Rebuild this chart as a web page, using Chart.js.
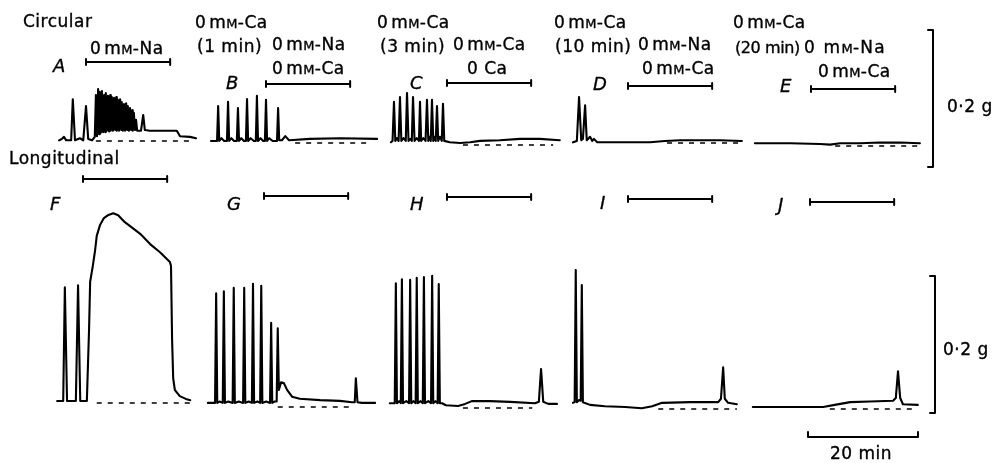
<!DOCTYPE html>
<html><head><meta charset="utf-8">
<script src="https://cdn.jsdelivr.net/npm/chart.js@4/dist/chart.umd.min.js"></script>
<style>
html,body{margin:0;padding:0;background:#fff;}
#wrap{position:relative;width:994px;height:463px;overflow:hidden;background:#fff;}
#c{position:absolute;left:0;top:0;}
.lbl{position:absolute;font-family:"DejaVu Sans",sans-serif;font-size:17px;line-height:17px;color:#000;white-space:nowrap;letter-spacing:0.5px;word-spacing:0;-webkit-text-stroke:0.35px #000;}
.mm{word-spacing:-3px;}
.it{font-style:italic;font-size:18px;}
.sc{font-size:13px;letter-spacing:0.3px;}
</style></head><body>
<div id="wrap">
<canvas id="c" width="994" height="463"></canvas>
<div class="lbl" style="left:23px;top:13px">Circular</div>
<div class="lbl mm" style="left:90px;top:40px">0 m<span class="sc">M</span>-Na</div>
<div class="lbl it" style="left:53px;top:57px">A</div>

<div class="lbl mm" style="left:195px;top:14px">0 m<span class="sc">M</span>-Ca</div>
<div class="lbl" style="left:197px;top:38px">(1 min)</div>
<div class="lbl mm" style="left:272px;top:36px">0 m<span class="sc">M</span>-Na</div>
<div class="lbl mm" style="left:272px;top:60px">0 m<span class="sc">M</span>-Ca</div>
<div class="lbl it" style="left:226px;top:74px">B</div>

<div class="lbl mm" style="left:377px;top:14px">0 m<span class="sc">M</span>-Ca</div>
<div class="lbl" style="left:380px;top:38px">(3 min)</div>
<div class="lbl mm" style="left:453px;top:36px">0 m<span class="sc">M</span>-Ca</div>
<div class="lbl" style="left:467px;top:60px">0 Ca</div>
<div class="lbl it" style="left:410px;top:74px">C</div>

<div class="lbl mm" style="left:554px;top:14px">0 m<span class="sc">M</span>-Ca</div>
<div class="lbl" style="left:555px;top:38px">(10 min)</div>
<div class="lbl mm" style="left:638px;top:36px">0 m<span class="sc">M</span>-Na</div>
<div class="lbl mm" style="left:642px;top:60px">0 m<span class="sc">M</span>-Ca</div>
<div class="lbl it" style="left:593px;top:75px">D</div>

<div class="lbl mm" style="left:733px;top:14px">0 m<span class="sc">M</span>-Ca</div>
<div class="lbl" style="left:735px;top:39px;font-size:16px;letter-spacing:-0.4px">(20 min)</div>
<div class="lbl" style="left:804px;top:39px;letter-spacing:1.2px;word-spacing:1px">0 m<span class="sc">M</span>-Na</div>
<div class="lbl mm" style="left:818px;top:63px">0 m<span class="sc">M</span>-Ca</div>
<div class="lbl it" style="left:780px;top:77px">E</div>
<div class="lbl" style="left:947px;top:98px">0·2 g</div>

<div class="lbl" style="left:9px;top:150px">Longitudinal</div>
<div class="lbl it" style="left:50px;top:195px">F</div>
<div class="lbl it" style="left:227px;top:195px">G</div>
<div class="lbl it" style="left:410px;top:195px">H</div>
<div class="lbl it" style="left:600px;top:194px">I</div>
<div class="lbl it" style="left:778px;top:196px">J</div>
<div class="lbl" style="left:943px;top:341px">0·2 g</div>
<div class="lbl" style="left:830px;top:445px">20 min</div>
</div>
<script>
// ---- DATA: time (min, relative to solution change) and tension (g above baseline) ----
const panelNames = ['A','B','C','D','E','F','G','H','I','J'];

const traceA = [[-4.9,0.001],[-4.4,0.003],[-4.0,0.006],[-3.6,0.001],[-2.7,0.001],[-2.4,0.061],[-2.0,0.001],[-1.1,0.004],[-0.5,0.001],[0,0.051],[0.4,0.003],[1.1,0.001],[1.6,0.006],
 [1.8,0.067],[2.0,0.007],[2.2,0.076],[2.4,0.010],[2.5,0.072],[2.7,0.012],[2.9,0.073],[3.1,0.013],[3.3,0.067],[3.5,0.013],[3.6,0.070],[3.8,0.015],[4.0,0.066],[4.2,0.014],[4.4,0.067],[4.5,0.015],[4.7,0.064],[4.9,0.015],[5.1,0.063],[5.3,0.016],[5.5,0.064],[5.6,0.015],[5.8,0.060],[6.0,0.015],[6.2,0.061],[6.4,0.016],[6.5,0.057],[6.7,0.015],[6.9,0.054],[7.1,0.015],[7.3,0.055],[7.5,0.016],[7.6,0.051],[7.8,0.015],[8.0,0.048],[8.2,0.016],[8.4,0.045],[8.5,0.015],[8.7,0.041],[8.9,0.016],[9.1,0.031],[9.3,0.015],
 [9.6,0.015],[10.0,0.015],[10.4,0.038],[10.7,0.016],[11.6,0.015],[16.5,0.015],[17.1,0.007],[18.9,0.006],[20.0,0.004]];

const traceB = [[-10.0,0.003],[-9.1,0.003],[-8.9,0.003],[-8.7,0.054],[-8.5,0.003],[-8.1,0.007],[-7.6,0.003],[-7.1,0.003],[-6.9,0.060],[-6.7,0.003],[-6.3,0.007],[-5.8,0.003],[-5.3,0.003],[-5.1,0.051],[-4.9,0.003],[-4.5,0.007],[-4.0,0.003],[-3.65,0.003],[-3.45,0.064],[-3.25,0.003],[-2.8,0.007],[-2.2,0.003],[-1.85,0.003],[-1.65,0.069],[-1.45,0.003],[-1.0,0.007],[-0.5,0.003],[-0.2,0.003],[0,0.063],[0.2,0.003],[0.6,0.007],[1.2,0.003],[2.0,0.003],[2.2,0.051],[2.4,0.004],[2.9,0.004],[3.5,0.010],[4.2,0.004],[8.0,0.006],[13.5,0.007],[20.2,0.006]];

const traceC = [[-10.2,0.004],[-9.9,0.006],[-9.64,0.063],[-9.4,0.006],[-9.1,0.010],[-8.8,0.006],[-8.55,0.070],[-8.3,0.006],[-7.9,0.010],[-7.5,0.006],[-7.27,0.076],[-7.0,0.006],[-6.7,0.009],[-6.4,0.006],[-6.18,0.070],[-5.9,0.006],[-5.5,0.010],[-5.1,0.006],[-4.91,0.063],[-4.7,0.006],[-4.3,0.010],[-3.9,0.006],[-3.64,0.066],[-3.4,0.006],[-3.2,0.012],[-2.95,0.006],[-2.73,0.066],[-2.5,0.006],[-2.3,0.012],[-2.05,0.006],[-1.82,0.057],[-1.6,0.006],[-1.3,0.012],[-0.95,0.006],[-0.73,0.060],[-0.5,0.006],[0.5,0.004],[2.4,0.003],[4.2,0.004],[6.0,0.006],[9.6,0.007],[13.3,0.009],[16.9,0.009],[20.5,0.007]];

const traceD = [[-10.0,0.001],[-9.3,0.003],[-8.9,0.067],[-8.5,0.004],[-8.2,0.006],[-7.8,0.055],[-7.5,0.004],[-6.9,0.009],[-6.5,0.003],[-6.2,0.006],[-5.6,0.001],[-1.5,0.001],[4.0,0.001],[6.7,0.003],[9.5,0.004],[13.1,0.004],[16.7,0.004],[20.7,0.003]];

const traceE = [[-10.2,0.004],[-3.8,0.004],[1.6,0.003],[3.5,0.002],[5.3,0.004],[8.9,0.004],[12.5,0.005],[16.2,0.005],[19.8,0.004]];

const traceF = [[-4.7,0.003],[-3.6,0.003],[-3.3,0.169],[-2.9,0.003],[-1.3,0.003],[-0.9,0.172],[-0.5,0.003],[0.7,0.003],[1.1,0.107],[1.3,0.177],[1.8,0.201],[2.2,0.223],[2.5,0.244],[3.1,0.260],[3.8,0.270],[4.5,0.274],[5.5,0.277],[6.4,0.274],[7.6,0.264],[9.1,0.255],[10.4,0.247],[12.2,0.232],[14.0,0.220],[15.8,0.206],[16.0,0.200],[16.2,0.092],[16.4,0.036],[16.7,0.019],[17.6,0.010],[18.7,0.006],[19.5,0.004]];

const traceG = [[-10.2,0.006],[-8.9,0.006],[-8.7,0.166],[-8.5,0.006],[-8.1,0.008],[-7.5,0.006],[-7.3,0.169],[-7.1,0.006],[-6.5,0.008],[-5.7,0.006],[-5.5,0.174],[-5.3,0.006],[-4.6,0.008],[-3.8,0.006],[-3.6,0.174],[-3.4,0.006],[-2.8,0.008],[-2.2,0.006],[-2.0,0.180],[-1.8,0.006],[-1.2,0.008],[-0.7,0.006],[-0.5,0.177],[-0.3,0.006],[0.4,0.008],[1.1,0.006],[1.3,0.123],[1.5,0.006],[1.9,0.008],[2.3,0.008],[2.5,0.115],[2.7,0.025],[3.1,0.036],[3.6,0.035],[4.2,0.025],[5.1,0.015],[6.5,0.012],[10.2,0.010],[13.8,0.009],[16.0,0.007],[16.5,0.007],[16.7,0.042],[17.0,0.007],[17.8,0.006],[20.2,0.006]];

const traceH = [[-10.4,0.007],[-9.5,0.007],[-9.3,0.182],[-9.1,0.007],[-8.7,0.010],[-8.4,0.007],[-8.2,0.188],[-8.0,0.007],[-7.4,0.010],[-6.9,0.007],[-6.7,0.187],[-6.5,0.007],[-6.1,0.010],[-5.7,0.007],[-5.5,0.190],[-5.3,0.007],[-4.8,0.010],[-4.4,0.007],[-4.2,0.191],[-4.0,0.007],[-3.4,0.010],[-2.9,0.007],[-2.7,0.193],[-2.5,0.007],[-2.1,0.010],[-1.7,0.007],[-1.5,0.181],[-1.3,0.007],[-0.9,0.007],[-0.2,0.004],[2.0,0.003],[3.3,0.006],[4.5,0.010],[7.8,0.010],[11.5,0.009],[16.0,0.007],[16.7,0.009],[17.1,0.057],[17.5,0.009],[18.4,0.006],[20.0,0.006]];

const traceI = [[-10.0,0.009],[-9.7,0.010],[-9.5,0.203],[-9.3,0.010],[-8.9,0.013],[-8.6,0.012],[-8.4,0.181],[-8.2,0.010],[-6.9,0.006],[-4.2,0.004],[-0.5,0.003],[2.5,0.001],[4.4,0.004],[6.2,0.009],[11.3,0.010],[16.4,0.010],[16.9,0.015],[17.3,0.061],[17.6,0.015],[18.2,0.009],[19.8,0.007]];

const traceJ = [[-10.4,0.003],[-3.6,0.003],[2.4,0.003],[4.5,0.006],[7.3,0.010],[10.9,0.011],[15.1,0.012],[15.6,0.016],[16.0,0.055],[16.4,0.016],[16.9,0.007],[19.6,0.006]];

const traces = [traceA,traceB,traceC,traceD,traceE,traceF,traceG,traceH,traceI,traceJ];
// dashed zero-tension baselines: [start, end] in min
const baselineSpans = [[1.8,19.8],[5.3,19.3],[2.9,19.3],[7.1,20.7],[4.4,19.8],[2.5,19.5],[2.5,16.5],[2.9,15.5],[5.5,19.8],[3.6,19.5]];
// solution-change period (min)
const applicationPeriod = [0, 15.3];
// calibration bars
const calibTension = 0.2; // g
const calibTime = 20;     // min

// ---- LAYOUT (pixels) ----
const W = 994, H = 463;
const PX_PER_MIN = 5.5, PX_PER_G = 685;
const panelX0 = [86,266,447,628,811,83,264,447,628,810];
const panelBaseY = [141,143,145,143,146,403,407,408,409,409];
const barY = [62,84,83,86,89,179,196,197,199,202];
const tensionBarX = [933,935], tensionBarBottomY = [167,413];
const timeBarX = 808, timeBarY = 437;

const mx = px => px / PX_PER_MIN;
const gy = py => (H - py) / PX_PER_G;
const tickX = 5 / PX_PER_MIN, tickY = 3 / PX_PER_G, tickY5 = 5 / PX_PER_G;

const ink = '#000';
const datasets = [];
panelNames.forEach((name, i) => {
  const ox = mx(panelX0[i]), oy = gy(panelBaseY[i]);
  datasets.push({label:'trace '+name, data: traces[i].map(([t,g]) => ({x: ox+t, y: oy+g})),
    borderColor: ink, borderWidth: 2.1});
  datasets.push({label:'baseline '+name, data: baselineSpans[i].map(t => ({x: ox+t, y: oy})),
    borderColor: ink, borderWidth: 1.5, borderDash: [5,6], borderCapStyle:'butt'});
  const by = gy(barY[i]);
  const [a, b] = applicationPeriod;
  datasets.push({label:'period '+name, data: [
    {x:ox+a,y:by+tickY},{x:ox+a,y:by-tickY},{x:ox+a,y:by},{x:ox+b,y:by},{x:ox+b,y:by+tickY},{x:ox+b,y:by-tickY}],
    borderColor: ink, borderWidth: 2});
});
tensionBarX.forEach((x, k) => {
  const y0 = gy(tensionBarBottomY[k]);
  datasets.push({label:'0.2 g', data:[
    {x:mx(x)-tickX,y:y0},{x:mx(x),y:y0},{x:mx(x),y:y0+calibTension},{x:mx(x)-tickX,y:y0+calibTension}],
    borderColor: ink, borderWidth: 2});
});
{
  const x0 = mx(timeBarX), y0 = gy(timeBarY);
  datasets.push({label:'20 min', data:[
    {x:x0,y:y0+tickY5},{x:x0,y:y0},{x:x0+calibTime,y:y0},{x:x0+calibTime,y:y0+tickY5}],
    borderColor: ink, borderWidth: 2});
}
datasets.forEach(d => { d.showLine = true; d.pointRadius = 0; d.fill = false; d.clip = false;
  d.borderJoinStyle = 'round'; if (!d.borderCapStyle) d.borderCapStyle = 'round'; d.tension = 0; });

new Chart(document.getElementById('c'), {
  type: 'scatter',
  data: { datasets },
  options: {
    responsive: false, animation: false, events: [],
    layout: { padding: 0 },
    plugins: { legend: { display: false }, tooltip: { enabled: false } },
    scales: {
      x: { type: 'linear', display: false, min: 0, max: W / PX_PER_MIN },
      y: { type: 'linear', display: false, min: 0, max: H / PX_PER_G }
    }
  }
});
</script>
</body></html>
